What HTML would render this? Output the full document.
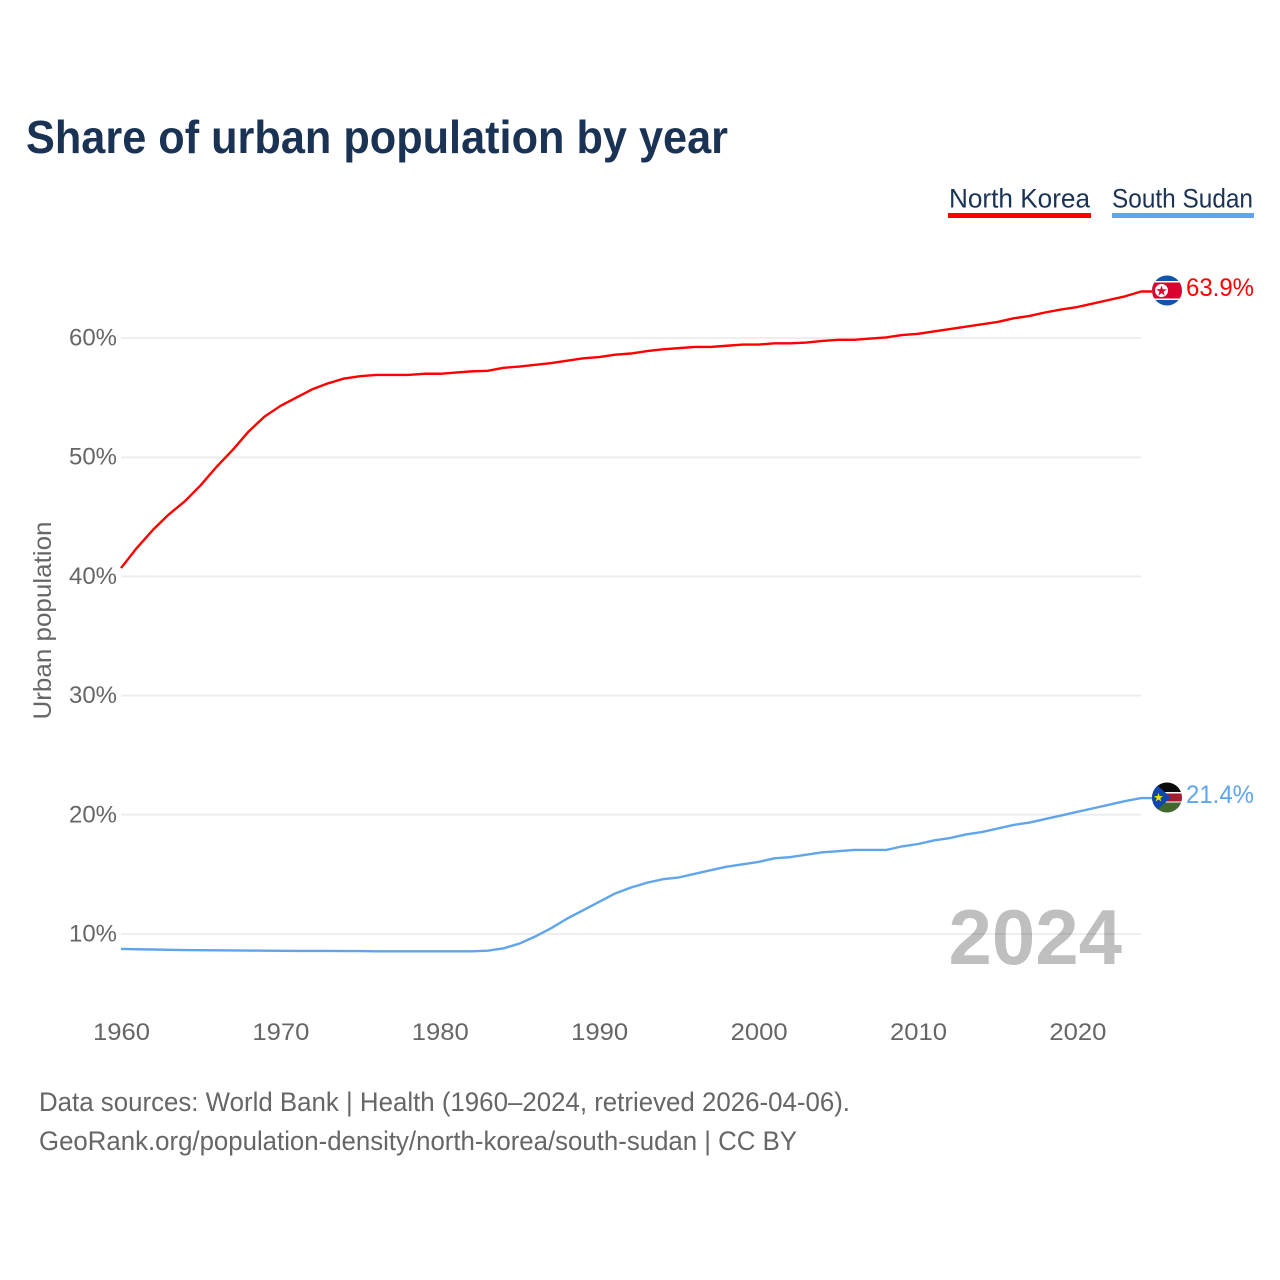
<!DOCTYPE html>
<html lang="en">
<head>
<meta charset="utf-8">
<title>Share of urban population by year</title>
<style>
html,body{margin:0;padding:0;background:#fff;width:1280px;height:1280px;overflow:hidden}
svg{display:block;font-family:"Liberation Sans",sans-serif}
</style>
</head>
<body>
<svg id="chart" xmlns="http://www.w3.org/2000/svg" width="1280" height="1280" viewBox="0 0 1280 1280">
  <defs>
    <clipPath id="clip-nk"><circle cx="1167" cy="290.500" r="15"/></clipPath>
    <clipPath id="clip-ss"><circle cx="1167" cy="797.500" r="15"/></clipPath>
  </defs>
  <text x="26" y="153" font-size="46" font-weight="700" fill="#1a3354" textLength="702" lengthAdjust="spacingAndGlyphs">Share of urban population by year</text>

  <g>
    <text x="949" y="207.500" font-size="27" fill="#1a3354" textLength="141" lengthAdjust="spacingAndGlyphs">North Korea</text>
    <rect x="948" y="213" width="143" height="5" fill="#ff0000"/>
  </g>
  <g>
    <text x="1112" y="207.500" font-size="27" fill="#1a3354" textLength="141" lengthAdjust="spacingAndGlyphs">South Sudan</text>
    <rect x="1112" y="213" width="142" height="5" fill="#60a5ec"/>
  </g>

  <g id="grid"></g>
  <g id="y-ticks"></g>
  <g id="x-ticks"></g>
  <text transform="translate(51,719.500) rotate(-90)" font-size="25" fill="#666" textLength="198" lengthAdjust="spacingAndGlyphs">Urban population</text>

  <g id="series"></g>

  <g clip-path="url(#clip-nk)">
    <rect x="1151" y="275" width="32" height="32" fill="#0f56a8"/>
    <rect x="1151" y="281" width="32" height="19" fill="#fff"/>
    <rect x="1151" y="282.500" width="32" height="16" fill="#d8032f"/>
    <circle cx="1161.500" cy="290.500" r="6.500" fill="#fff"/>
    <text x="1161.500" y="295.500" font-size="14" text-anchor="middle" fill="#d8032f">★</text>
  </g>
  <g clip-path="url(#clip-ss)">
    <rect x="1151" y="782" width="32" height="11" fill="#0a0a0a"/>
    <rect x="1151" y="792" width="32" height="11" fill="#fff"/>
    <rect x="1151" y="793.500" width="32" height="8" fill="#a51c30"/>
    <rect x="1151" y="802.500" width="32" height="11" fill="#41692f"/>
    <polygon points="1151,780 1171,797.500 1151,815" fill="#0f47af"/>
    <text x="1158.500" y="801.500" font-size="12" text-anchor="middle" fill="#fcdd09">★</text>
  </g>

  <text id="nk-value" x="1186" y="296" font-size="25" fill="#ff0000" textLength="68" lengthAdjust="spacingAndGlyphs"></text>
  <text id="ss-value" x="1186" y="803" font-size="25" fill="#60a5ec" textLength="68" lengthAdjust="spacingAndGlyphs"></text>

  <text x="1122" y="964" font-size="78" font-weight="700" text-anchor="end" fill="#000" fill-opacity="0.25">2024</text>

  <text x="39" y="1111" font-size="27" fill="#666" textLength="811" lengthAdjust="spacingAndGlyphs">Data sources: World Bank | Health (1960–2024, retrieved 2026-04-06).</text>
  <text x="39" y="1150" font-size="27" fill="#666" textLength="758" lengthAdjust="spacingAndGlyphs">GeoRank.org/population-density/north-korea/south-sudan | CC BY</text>
</svg>
<script>
const startYear = 1960;
const yTickValues = [10, 20, 30, 40, 50, 60];
const xTickYears = [1960, 1970, 1980, 1990, 2000, 2010, 2020];
const northKorea = [40.7,42.4,43.9,45.2,46.3,47.65,49.2,50.6,52.15,53.4,54.3,55.0,55.7,56.2,56.6,56.8,56.9,56.9,56.9,57.0,57.0,57.1,57.2,57.25,57.5,57.6,57.75,57.9,58.1,58.3,58.4,58.6,58.7,58.9,59.05,59.15,59.25,59.25,59.35,59.45,59.45,59.55,59.55,59.62,59.75,59.85,59.85,59.95,60.05,60.25,60.35,60.55,60.75,60.95,61.15,61.35,61.65,61.85,62.15,62.4,62.6,62.9,63.2,63.5,63.9];
const southSudan = [8.75,8.72,8.7,8.67,8.65,8.64,8.63,8.62,8.61,8.6,8.59,8.58,8.58,8.58,8.57,8.57,8.55,8.55,8.55,8.55,8.55,8.55,8.55,8.6,8.8,9.2,9.8,10.5,11.3,12.0,12.7,13.4,13.9,14.3,14.6,14.75,15.05,15.35,15.65,15.85,16.05,16.35,16.45,16.65,16.85,16.95,17.05,17.05,17.05,17.35,17.55,17.85,18.05,18.35,18.55,18.85,19.15,19.35,19.65,19.95,20.25,20.55,20.85,21.15,21.4];

const NS = 'http://www.w3.org/2000/svg';
function xScale(year) { return 121 + (year - 1960) * 15.94; }
function yScale(v) { return 934 - (v - 10) * 11.92; }

const grid = document.getElementById('grid');
const yTicks = document.getElementById('y-ticks');
yTickValues.forEach(function (v) {
  const line = document.createElementNS(NS, 'line');
  
  
  line.setAttribute('x1', 121);
  line.setAttribute('x2', 1141);
  line.setAttribute('y1', yScale(v));
  line.setAttribute('y2', yScale(v));
  line.setAttribute('stroke', '#eeeeee');
  line.setAttribute('stroke-width', 2);
  grid.appendChild(line);
  const label = document.createElementNS(NS, 'text');
  
  
  label.setAttribute('x', 117);
  label.setAttribute('y', yScale(v) + 7.5);
  label.setAttribute('text-anchor', 'end');
  label.setAttribute('font-size', 24);
  label.setAttribute('fill', '#666');
  label.setAttribute('textLength', 48);
  label.setAttribute('lengthAdjust', 'spacingAndGlyphs');
  label.textContent = v + '%';
  yTicks.appendChild(label);
});

const xTicks = document.getElementById('x-ticks');
xTickYears.forEach(function (y) {
  const label = document.createElementNS(NS, 'text');
  
  
  label.setAttribute('x', xScale(y) + 0.5);
  label.setAttribute('y', 1040);
  label.setAttribute('text-anchor', 'middle');
  label.setAttribute('font-size', 24);
  label.setAttribute('fill', '#666');
  label.setAttribute('textLength', 57);
  label.setAttribute('lengthAdjust', 'spacingAndGlyphs');
  label.textContent = y;
  xTicks.appendChild(label);
});

function buildPath(values) {
  let d = '';
  values.forEach(function (v, i) {
    d += (i ? 'L' : 'M') + xScale(startYear + i).toFixed(2) + ' ' + yScale(v).toFixed(2);
  });
  const last = values[values.length - 1];
  d += 'L' + (xScale(startYear + values.length - 1) + 12).toFixed(2) + ' ' + yScale(last).toFixed(2);
  return d;
}

const seriesGroup = document.getElementById('series');
const nkLine = document.createElementNS(NS, 'path');


nkLine.setAttribute('d', buildPath(northKorea));
nkLine.setAttribute('fill', 'none');
nkLine.setAttribute('stroke', '#ff0000');
nkLine.setAttribute('stroke-width', 2.4);
nkLine.setAttribute('stroke-linejoin', 'round');
seriesGroup.appendChild(nkLine);
const ssLine = document.createElementNS(NS, 'path');


ssLine.setAttribute('d', buildPath(southSudan));
ssLine.setAttribute('fill', 'none');
ssLine.setAttribute('stroke', '#60a5ec');
ssLine.setAttribute('stroke-width', 2.4);
ssLine.setAttribute('stroke-linejoin', 'round');
seriesGroup.appendChild(ssLine);

document.getElementById('nk-value').textContent = northKorea[northKorea.length - 1].toFixed(1) + '%';
document.getElementById('ss-value').textContent = southSudan[southSudan.length - 1].toFixed(1) + '%';
</script>
</body>
</html>
